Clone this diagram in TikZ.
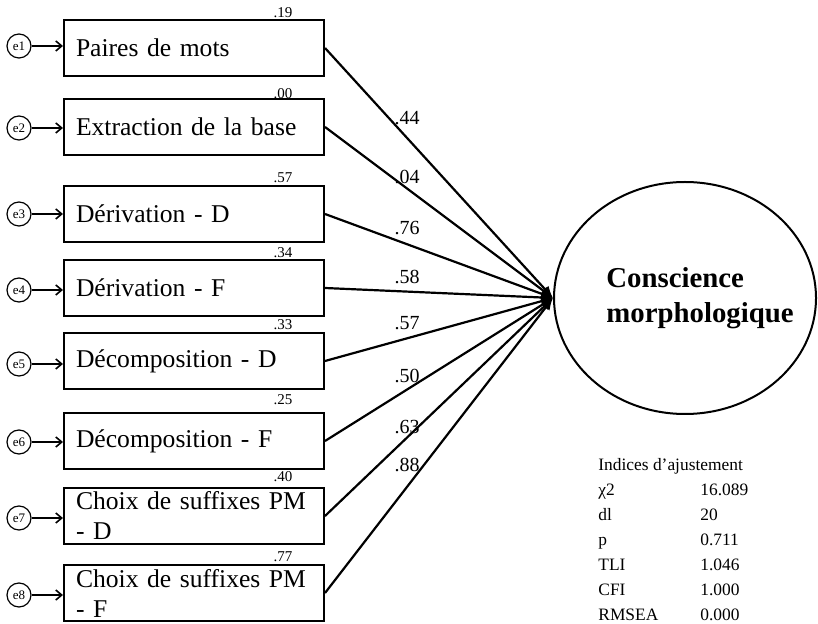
\documentclass[tikz,border=0pt]{standalone}
\usepackage{fontspec}
\setmainfont{Liberation Serif}
\usetikzlibrary{shapes.geometric,arrows.meta}

\begin{document}
\begin{tikzpicture}[%
        x = 0.5pt, y = -0.5pt,
        obs/.style = {draw, line width=1pt, rectangle, minimum width=130pt,
            minimum height=28pt, text width=118pt, inner xsep=6pt, align=left,
            font=\fontsize{12.8}{15}\selectfont},
        err/.style = {draw, circle, line width=0.6pt, minimum size=12pt,
            inner sep=0pt, font=\fontsize{6.5}{6.5}\selectfont},
        rsq/.style = {font=\fontsize{7.5}{7.5}\selectfont, inner sep=0pt},
        coef/.style = {font=\fontsize{10}{10}\selectfont, inner sep=0pt},
        errarr/.style = {line width=0.8pt, -{Straight Barb[length=3pt,width=5pt]}},
        path/.style = {line width=1.1pt, -{Latex[length=6pt,width=5pt]}}
    ]
      \useasboundingbox (0,0) rectangle (818,624);

      % indicateurs
      \node[obs] (b1) at (194,48) {Paires de mots};
      \node[obs] (b2) at (194,127) {Extraction de la base};
      \node[obs] (b3) at (194,214) {Dérivation - D};
      \node[obs] (b4) at (194,288) {Dérivation - F};
      \node[obs] (b5) at (194,361) {Décomposition - D};
      \node[obs] (b6) at (194,441) {Décomposition - F};
      \node[obs, inner ysep=0pt] (b7) at (194,516) {Choix de suffixes PM\\- D};
      \node[obs, inner ysep=0pt] (b8) at (194,593) {Choix de suffixes PM\\- F};

      % erreurs
      \node[err] (e1) at (19,46) {e1};
      \node[err] (e2) at (19,128) {e2};
      \node[err] (e3) at (19,214) {e3};
      \node[err] (e4) at (19,290) {e4};
      \node[err] (e5) at (19,364) {e5};
      \node[err] (e6) at (19,442) {e6};
      \node[err] (e7) at (19,518) {e7};
      \node[err] (e8) at (19,595) {e8};
      \draw[errarr] (e1) -- (b1.west |- e1);
      \draw[errarr] (e2) -- (b2.west |- e2);
      \draw[errarr] (e3) -- (b3.west |- e3);
      \draw[errarr] (e4) -- (b4.west |- e4);
      \draw[errarr] (e5) -- (b5.west |- e5);
      \draw[errarr] (e6) -- (b6.west |- e6);
      \draw[errarr] (e7) -- (b7.west |- e7);
      \draw[errarr] (e8) -- (b8.west |- e8);

      % R2
      \node[rsq] (r1) at (283,13) {.19};
      \node[rsq] (r2) at (283,94) {.00};
      \node[rsq] (r3) at (283,178) {.57};
      \node[rsq] (r4) at (283,253) {.34};
      \node[rsq] (r5) at (283,325) {.33};
      \node[rsq] (r6) at (283,400) {.25};
      \node[rsq] (r7) at (283,477) {.40};
      \node[rsq] (r8) at (283,557) {.77};

      % variable latente
      \node[draw, ellipse, line width=1pt, minimum width=131pt,
            minimum height=116pt] (cm) at (685,298) {};
      \node[font=\bfseries\fontsize{14.4}{17.5}\selectfont, align=left,
            inner sep=0pt] (cmlab) at (700,298) {Conscience\\morphologique};

      \draw[path] (b1.east) -- (cm.west);
      \draw[path] (b2.east) -- (cm.west);
      \draw[path] (b3.east) -- (cm.west);
      \draw[path] (b4.east) -- (cm.west);
      \draw[path] (b5.east) -- (cm.west);
      \draw[path] (b6.east) -- (cm.west);
      \draw[path] (b7.east) -- (cm.west);
      \draw[path] (b8.east) -- (cm.west);

      \node[coef] (c1) at (407,118) {.44};
      \node[coef] (c2) at (407,177) {.04};
      \node[coef] (c3) at (407,228) {.76};
      \node[coef] (c4) at (407,277) {.58};
      \node[coef] (c5) at (407,323) {.57};
      \node[coef] (c6) at (407,376) {.50};
      \node[coef] (c7) at (407,427) {.63};
      \node[coef] (c8) at (407,465) {.88};

      % indices
      \node[anchor=north west, inner sep=0pt, font=\fontsize{8.7}{12.5}\selectfont]
        (fit) at (598,453) {%
        \begin{tabular}{@{}p{51pt}@{}l@{}}
          \multicolumn{2}{@{}l@{}}{Indices d’ajustement}\\
          χ2 & 16.089\\
          dl & 20\\
          p & 0.711\\
          TLI & 1.046\\
          CFI & 1.000\\
          RMSEA & 0.000
        \end{tabular}};
    \end{tikzpicture}
\end{document}
